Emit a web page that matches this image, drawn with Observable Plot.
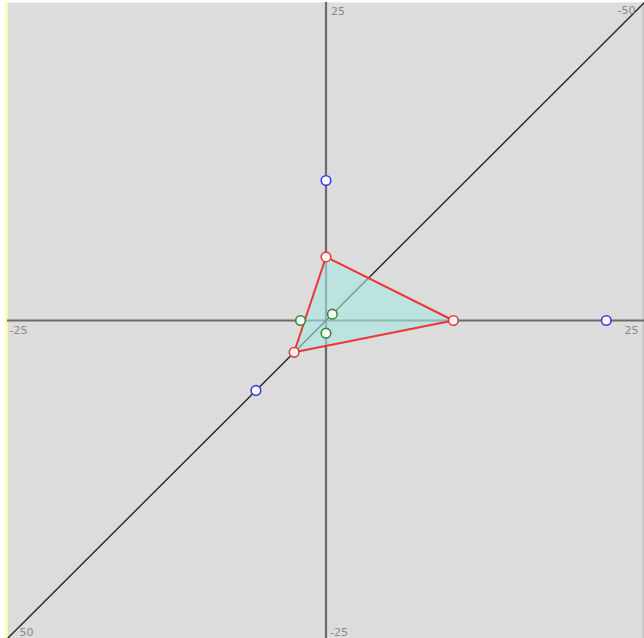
<!DOCTYPE html>
<html>
<head>
<meta charset="utf-8">
<script src="https://cdn.jsdelivr.net/npm/d3@7"></script>
<script src="https://cdn.jsdelivr.net/npm/@observablehq/plot@0.6"></script>
<style>
  html, body { margin: 0; padding: 0; background: #fff; }
  #chart { position: absolute; left: 0; top: 0; }
</style>
</head>
<body>
<div id="chart"></div>
<script>
// Axis extents
const xDomain = [-25, 25];
const yDomain = [-25, 25];
// Third (diagonal) axis: z = -x - y, drawn along x = y
const diagonal = [{x: -25, y: -25}, {x: 25, y: 25}];

// Axis end labels
const labelText = ["-25", "25", "25", "-25", "-50", "50"];
const labelX = [-25, 25, 0, 0, 25, -25];
const labelY = [0, 0, 25, -25, 25, -25];
const labelAnchor = ["start", "end", "start", "start", "end", "start"];
const labelDx = [2, -6, 5, 4, -9, 12];
const labelDy = [10, 10, 9, -6, 8, -6];

// Triangle vertices (red)
const triX = [0, 10, -2.5];
const triY = [5, 0, -2.5];
const triangle = triX.map((x, i) => ({x, y: triY[i]}));

// Blue points on the three axes
const blueX = [0, 22, -5.5];
const blueY = [11, 0, -5.5];
const bluePts = blueX.map((x, i) => ({x, y: blueY[i]}));

// Green points
const greenX = [-2, 0.5, 0];
const greenY = [0, 0.5, -1];
const greenPts = greenX.map((x, i) => ({x, y: greenY[i]}));

const labelMarks = labelText.map((t, i) =>
  Plot.text([{x: labelX[i], y: labelY[i], t}], {
    x: "x", y: "y", text: "t", textAnchor: labelAnchor[i], dx: labelDx[i], dy: labelDy[i],
    fill: "#8a8a8a", fontSize: 11, fontFamily: "DejaVu Sans, sans-serif"
  })
);

const chart = Plot.plot({
  width: 644,
  height: 638,
  marginLeft: 7,
  marginRight: 0,
  marginTop: 2,
  marginBottom: 0,
  x: {domain: xDomain, axis: null},
  y: {domain: yDomain, axis: null},
  style: {background: "transparent", overflow: "visible"},
  marks: [
    Plot.frame({fill: "#dcdcdc", stroke: null}),
    Plot.ruleX([-25], {stroke: "#ffff99", strokeWidth: 2, dx: -1}),
    Plot.ruleX([25], {stroke: "#c4c4c4", strokeWidth: 2, dx: -1}),
    Plot.ruleY([0], {stroke: "#6a6a6a", strokeWidth: 2.2}),
    Plot.ruleX([0], {stroke: "#6a6a6a", strokeWidth: 2.2}),
    Plot.line(diagonal, {x: "x", y: "y", stroke: "#262626", strokeWidth: 1.4}),
    ...labelMarks,
    Plot.line(triangle.concat([triangle[0]]), {x: "x", y: "y", fill: "#a8e8e4", fillOpacity: 0.6, stroke: null}),
    Plot.line(triangle.concat([triangle[0]]), {x: "x", y: "y", stroke: "#f03434", strokeWidth: 2}),
    Plot.dot(bluePts, {x: "x", y: "y", r: 4.8, fill: "white", stroke: "#3a3af0", strokeWidth: 1.6}),
    Plot.dot(triangle, {x: "x", y: "y", r: 4.8, fill: "white", stroke: "#f03434", strokeWidth: 1.6}),
    Plot.dot(greenPts, {x: "x", y: "y", r: 4.8, fill: "white", stroke: "#2e8b2e", strokeWidth: 1.6})
  ]
});
document.getElementById("chart").appendChild(chart);
</script>
</body>
</html>
